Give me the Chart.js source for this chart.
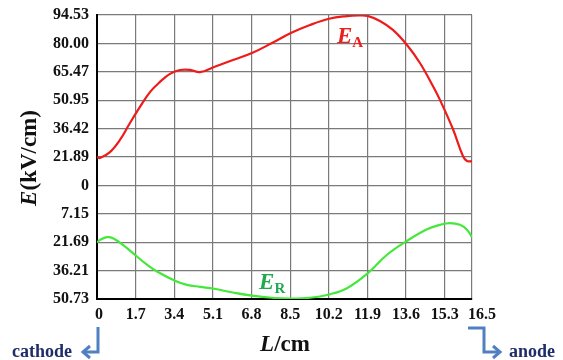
<!DOCTYPE html>
<html><head><meta charset="utf-8">
<script src="https://cdn.jsdelivr.net/npm/chart.js@4"></script>
<style>html,body{margin:0;padding:0;background:#fff}#wrap{width:563px;height:360px}</style>
</head><body><div id="wrap"><canvas id="c" width="563" height="360"></canvas></div>
<script>
// Distance from cathode (cm) and field strength (kV/cm)
const lengthA = [0, 0.13, 0.57, 1.01, 1.45, 1.89, 2.33, 2.77, 3.21, 3.65, 4.09, 4.53, 5.15, 5.98, 6.82, 7.70, 8.53, 9.37, 10.21, 11.0, 11.5, 11.9, 12.45, 13.02, 13.64, 14.21, 14.78, 15.09, 15.66, 16.10, 16.28, 16.5];
const fieldA  = [21.89, 21.4, 24.4, 30.6, 39.3, 47.5, 55.1, 60.3, 64.4, 66.4, 66.5, 65.3, 67.9, 71.5, 75.1, 80.2, 85.3, 89.4, 92.6, 94.0, 94.3, 94.1, 91.5, 86.9, 79.2, 70.0, 58.2, 51.1, 36.2, 22.4, 19.8, 19.8];
const lengthR = [0, 0.13, 0.44, 0.70, 1.14, 1.72, 2.2, 2.64, 3.43, 3.96, 4.53, 5.15, 5.98, 6.82, 7.70, 8.53, 9.37, 10.21, 11.0, 11.92, 12.76, 13.64, 14.52, 15.09, 15.53, 15.97, 16.28, 16.5];
const fieldR  = [21.8, 20.5, 19.1, 19.6, 23.0, 28.6, 33.2, 36.7, 41.4, 43.5, 44.5, 45.5, 47.4, 49.0, 50.1, 50.5, 50.1, 48.4, 45.2, 37.5, 28.1, 21.0, 15.1, 12.8, 11.9, 12.8, 15.3, 19.1];
const xTickValues = [0, 1.7, 3.4, 5.1, 6.8, 8.5, 10.2, 11.9, 13.6, 15.3, 16.5];
const xTickLabels = ['0','1.7','3.4','5.1','6.8','8.5','10.2','11.9','13.6','15.3','16.5'];
// y tick labels, bottom (row 0) to top (row 10): lower part is E_R (inverted), upper part is E_A
const yTickLabels = ['50.73','36.21','21.69','7.15','0','21.89','36.42','50.95','65.47','80.00','94.53'];

// map field values onto the split axis rows
const rowA = e => 5 + (e - 21.89) / 14.53;
const rowR = e => 3 - (e - 7.15) / 14.527;

const dataA = lengthA.map((x, i) => ({x, y: rowA(fieldA[i])}));
const dataR = lengthR.map((x, i) => ({x, y: rowR(fieldR[i])}));

const SERIF = '"Liberation Serif", "Times New Roman", serif';

const extras = {
  id: 'extras',
  afterDraw(chart) {
    const ctx = chart.ctx, xs = chart.scales.x, ys = chart.scales.y, a = chart.chartArea;
    ctx.save();
    // x tick labels (last one sits a little to the right of its grid line)
    ctx.fillStyle = '#111';
    ctx.font = 'bold 16px ' + SERIF;
    ctx.textAlign = 'center';
    ctx.textBaseline = 'middle';
    xTickValues.forEach((v, i) => {
      let px = xs.getPixelForValue(v);
      if (i === 0) px += 2;
      if (i === xTickValues.length - 1) px += 10;
      ctx.fillText(xTickLabels[i], px, a.bottom + 16);
    });
    ctx.restore();

    ctx.save();
    // y title
    ctx.translate(30, 158);
    ctx.rotate(-Math.PI / 2);
    ctx.fillStyle = '#111';
    ctx.textBaseline = 'middle';
    ctx.font = 'italic bold 23px ' + SERIF;
    const w1 = ctx.measureText('E').width;
    ctx.font = 'bold 23px ' + SERIF;
    const w2 = ctx.measureText('(kV/cm)').width;
    let sx = -(w1 + w2) / 2;
    ctx.font = 'italic bold 23px ' + SERIF;
    ctx.textAlign = 'left';
    ctx.fillText('E', sx, 0);
    ctx.font = 'bold 23px ' + SERIF;
    ctx.fillText('(kV/cm)', sx + w1, 0);
    ctx.restore();

    ctx.save();
    // x title
    ctx.fillStyle = '#111';
    ctx.textBaseline = 'alphabetic';
    ctx.font = 'italic bold 23px ' + SERIF;
    const l1 = ctx.measureText('L').width;
    ctx.font = 'bold 23px ' + SERIF;
    const l2 = ctx.measureText('/cm').width;
    let tx = 285 - (l1 + l2) / 2;
    ctx.font = 'italic bold 23px ' + SERIF;
    ctx.fillText('L', tx, 351);
    ctx.font = 'bold 23px ' + SERIF;
    ctx.fillText('/cm', tx + l1, 351);

    // series labels
    function seriesLabel(main, sub, color, xv, yv) {
      const px = xs.getPixelForValue(xv), py = ys.getPixelForValue(yv);
      ctx.fillStyle = color;
      ctx.font = 'italic bold 23px ' + SERIF;
      ctx.fillText(main, px, py);
      const mw = ctx.measureText(main).width;
      ctx.font = 'bold 15px ' + SERIF;
      ctx.fillText(sub, px + mw, py + 4);
    }
    seriesLabel('E', 'A', '#E8201E', 10.56, 9.0);
    seriesLabel('E', 'R', '#1FAA50', 7.13, 0.35);

    // cathode / anode
    ctx.fillStyle = '#1F2D6A';
    ctx.font = 'bold 18px ' + SERIF;
    ctx.textBaseline = 'middle';
    ctx.textAlign = 'left';
    ctx.fillText('cathode', 12, 352);
    ctx.fillText('anode', 509, 352);

    ctx.strokeStyle = '#4F81C2';
    ctx.lineWidth = 3;
    ctx.lineJoin = 'miter';
    ctx.beginPath();
    ctx.moveTo(98, 327); ctx.lineTo(98, 352); ctx.lineTo(84, 352);
    ctx.stroke();
    ctx.beginPath();
    ctx.moveTo(90, 346); ctx.lineTo(83, 352); ctx.lineTo(90, 358);
    ctx.stroke();
    ctx.beginPath();
    ctx.moveTo(468, 328); ctx.lineTo(484, 328); ctx.lineTo(484, 352); ctx.lineTo(499, 352);
    ctx.stroke();
    ctx.beginPath();
    ctx.moveTo(493, 346); ctx.lineTo(500, 352); ctx.lineTo(493, 358);
    ctx.stroke();
    ctx.restore();
  }
};

new Chart(document.getElementById('c'), {
  type: 'scatter',
  data: {
    datasets: [
      {label: 'E_A', data: dataA, showLine: true, borderColor: '#EE1B1B', borderWidth: 2.2, pointRadius: 0, tension: 0.4, fill: false},
      {label: 'E_R', data: dataR, showLine: true, borderColor: '#44E83A', borderWidth: 2.2, pointRadius: 0, tension: 0.4, fill: false}
    ]
  },
  options: {
    responsive: false,
    animation: false,
    devicePixelRatio: 1,
    layout: {padding: {left: 0, right: 91, top: 15, bottom: 0}},
    plugins: {legend: {display: false}, tooltip: {enabled: false}},
    scales: {
      x: {
        type: 'linear', min: 0, max: 16.5,
        afterBuildTicks: s => { s.ticks = xTickValues.map(v => ({value: v})); },
        afterFit: s => { s.height = 61; s.paddingLeft = 0; s.paddingRight = 0; },
        ticks: {display: false},
        grid: {color: '#7a7a7a', lineWidth: 1.2, drawTicks: false},
        border: {color: '#000', width: 2}
      },
      y: {
        type: 'linear', min: 0, max: 10,
        afterBuildTicks: s => { s.ticks = yTickLabels.map((t, i) => ({value: i})); },
        afterFit: s => { s.width = 97; s.paddingTop = 0; s.paddingBottom = 0; },
        ticks: {
          callback: (v) => yTickLabels[v],
          color: '#111', font: {family: SERIF, size: 16, weight: 'bold'}, padding: 8, autoSkip: false
        },
        grid: {color: '#7a7a7a', lineWidth: 1.2, drawTicks: false},
        border: {color: '#000', width: 2}
      }
    }
  },
  plugins: [extras]
});
</script>
</body></html>
